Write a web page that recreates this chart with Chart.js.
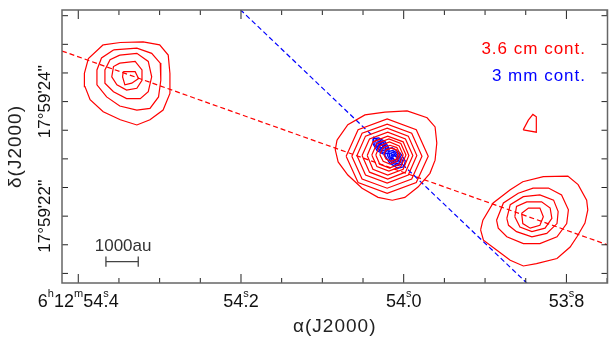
<!DOCTYPE html>
<html>
<head>
<meta charset="utf-8">
<script src="https://cdn.jsdelivr.net/npm/chart.js@4.4.1/dist/chart.umd.min.js"></script>
<style>
  html, body { margin: 0; padding: 0; background: #fff; }
</style>
</head>
<body>
<canvas id="map" width="609" height="340"></canvas>
<script>
// Axes: RA in seconds of time (6h12m..s), Dec in arcsec (17°59'..")
const raRange = [53.7495, 54.4200];
const decRange = [20.8326, 25.5995];
const decDeg = 17.9916;

const raMajorTicks = [54.4, 54.2, 54.0, 53.8];
const raMinorTicks = [54.35, 54.3, 54.25, 54.15, 54.1, 54.05, 53.95, 53.9, 53.85, 53.75];
const raTickLabels = ['6^h12^m54^s.4', '54^s.2', '54^s.0', '53^s.8'];
const decMajorTicks = [22, 24];
const decMinorTicks = [21, 21.5, 22.5, 23, 23.5, 24.5, 25, 25.5];
const decTickLabels = ["17°59'22''", "17°59'24''"];

// 3.6 cm continuum: centres [RA s, Dec "], contours as [east ", north "] offsets
const cmCentreA = [54.3364, 24.4121];
const cmCentreB = [54.0168, 23.0676];
const cmCentreC = [53.8410, 22.0199];
const cmCentreD = [53.8447, 23.6263];

const cmContoursA = [
  [[0.47,0.58],[0.17,0.62],[-0.23,0.63],[-0.52,0.58],[-0.67,0.40],[-0.70,0.08],[-0.70,-0.27],[-0.58,-0.56],[-0.35,-0.73],[-0.12,-0.82],[0.17,-0.73],[0.47,-0.59],[0.70,-0.38],[0.79,-0.15],[0.80,0.08],[0.73,0.34]],
  [[0.29,0.49],[-0.12,0.52],[-0.38,0.43],[-0.53,0.26],[-0.54,-0.04],[-0.50,-0.33],[-0.35,-0.53],[-0.12,-0.56],[0.18,-0.49],[0.41,-0.33],[0.58,-0.12],[0.58,0.14],[0.50,0.35]],
  [[0.18,0.40],[-0.12,0.43],[-0.32,0.29],[-0.38,0.02],[-0.32,-0.24],[-0.18,-0.36],[0.06,-0.36],[0.29,-0.24],[0.44,-0.09],[0.44,0.14],[0.35,0.32]],
  [[0.18,0.26],[-0.09,0.29],[-0.21,0.14],[-0.21,-0.04],[-0.12,-0.18],[0.06,-0.21],[0.23,-0.12],[0.32,0.02],[0.29,0.20]],
  [[0.12,0.11],[-0.09,0.11],[-0.15,-0.01],[-0.03,-0.09],[0.09,-0.12],[0.13,0.02]]
];

const cmContoursB = [
  [[0.93,0.26],[0.74,0.53],[0.44,0.70],[0.09,0.75],[-0.30,0.77],[-0.65,0.65],[-0.79,0.49],[-0.82,0.21],[-0.79,-0.09],[-0.70,-0.32],[-0.49,-0.56],[-0.26,-0.74],[-0.04,-0.79],[0.21,-0.74],[0.49,-0.58],[0.74,-0.35],[0.91,-0.12],[0.96,0.09]],
  [[0.77,-0.02],[0.56,0.44],[0.05,0.63],[-0.46,0.44],[-0.67,-0.02],[-0.46,-0.48],[0.05,-0.67],[0.56,-0.48]],
  [[0.67,-0.02],[0.49,0.38],[0.05,0.54],[-0.38,0.38],[-0.56,-0.02],[-0.38,-0.42],[0.05,-0.58],[0.49,-0.42]],
  [[0.58,-0.01],[0.43,0.33],[0.05,0.47],[-0.32,0.33],[-0.47,-0.01],[-0.32,-0.35],[0.05,-0.49],[0.43,-0.35]],
  [[0.49,-0.01],[0.36,0.28],[0.04,0.40],[-0.27,0.28],[-0.40,-0.01],[-0.27,-0.30],[0.04,-0.42],[0.36,-0.30]],
  [[0.40,-0.01],[0.30,0.23],[0.04,0.33],[-0.23,0.23],[-0.33,-0.01],[-0.23,-0.25],[0.04,-0.35],[0.30,-0.25]],
  [[0.32,0.00],[0.23,0.20],[0.02,0.28],[-0.19,0.20],[-0.28,0.00],[-0.19,-0.20],[0.02,-0.28],[0.23,-0.20]],
  [[0.25,0.00],[0.18,0.16],[0.01,0.23],[-0.16,0.16],[-0.23,0.00],[-0.16,-0.16],[0.01,-0.23],[0.18,-0.16]],
  [[0.18,0.01],[0.12,0.13],[0.00,0.17],[-0.12,0.13],[-0.18,0.01],[-0.12,-0.11],[0.00,-0.16],[0.12,-0.11]],
  [[0.11,0.01],[0.07,0.09],[-0.02,0.12],[-0.11,0.09],[-0.14,0.01],[-0.11,-0.07],[-0.02,-0.11],[0.07,-0.07]]
];

const cmContoursC = [
  [[0.92,-0.26],[0.88,-0.09],[0.70,0.21],[0.40,0.44],[0.18,0.58],[-0.18,0.67],[-0.61,0.68],[-0.79,0.53],[-0.94,0.26],[-0.96,0.09],[-0.91,-0.14],[-0.77,-0.38],[-0.65,-0.56],[-0.42,-0.76],[-0.06,-0.85],[0.17,-0.89],[0.40,-0.79],[0.64,-0.61],[0.87,-0.44]],
  [[0.64,-0.09],[0.52,0.21],[0.26,0.38],[0.00,0.47],[-0.27,0.47],[-0.50,0.35],[-0.62,0.09],[-0.59,-0.15],[-0.42,-0.38],[-0.12,-0.50],[0.17,-0.50],[0.46,-0.38],[0.61,-0.23]],
  [[0.46,-0.06],[0.40,0.18],[0.17,0.32],[-0.12,0.35],[-0.36,0.26],[-0.44,0.06],[-0.42,-0.15],[-0.24,-0.32],[0.02,-0.38],[0.29,-0.29],[0.43,-0.18]],
  [[0.32,-0.03],[0.29,0.15],[0.11,0.23],[-0.15,0.23],[-0.30,0.12],[-0.33,-0.06],[-0.21,-0.23],[0.02,-0.29],[0.23,-0.21]],
  [[0.20,0.03],[0.08,0.12],[-0.12,0.12],[-0.18,-0.03],[-0.12,-0.18],[0.05,-0.23],[0.18,-0.15]]
];

const cmContoursD = [
  [[0.12,-0.12],[0.03,0.05],[-0.05,0.15],[-0.11,0.11],[-0.11,-0.16]]
];

// 3 mm continuum: two compact cores
const mmCentre1 = [54.0279, 23.2247];
const mmCentre2 = [54.0107, 23.0152];

const mmContours1 = [
  [[-0.13,-0.13],[-0.14,-0.04],[-0.07,0.08],[0.04,0.14],[0.13,0.13],[0.14,0.04],[0.07,-0.08],[-0.04,-0.14]],
  [[-0.10,-0.10],[-0.11,-0.03],[-0.05,0.06],[0.03,0.11],[0.10,0.10],[0.11,0.03],[0.05,-0.06],[-0.03,-0.11]],
  [[-0.07,-0.07],[-0.08,-0.02],[-0.04,0.05],[0.02,0.08],[0.07,0.07],[0.08,0.02],[0.04,-0.05],[-0.02,-0.08]],
  [[-0.05,-0.05],[-0.05,-0.01],[-0.02,0.03],[0.01,0.05],[0.05,0.05],[0.05,0.01],[0.02,-0.03],[-0.01,-0.05]],
  [[-0.03,-0.03],[-0.03,0.00],[-0.01,0.02],[0.01,0.03],[0.03,0.03],[0.03,0.00],[0.01,-0.02],[-0.01,-0.03]]
];
const mmContours2 = [
  [[-0.16,-0.15],[-0.18,-0.05],[-0.09,0.09],[0.05,0.18],[0.16,0.15],[0.18,0.05],[0.09,-0.09],[-0.05,-0.18]],
  [[-0.12,-0.11],[-0.13,-0.04],[-0.07,0.07],[0.04,0.13],[0.12,0.11],[0.13,0.04],[0.07,-0.07],[-0.04,-0.13]],
  [[-0.09,-0.08],[-0.10,-0.03],[-0.05,0.05],[0.03,0.10],[0.09,0.08],[0.10,0.03],[0.05,-0.05],[-0.03,-0.10]],
  [[-0.06,-0.05],[-0.07,-0.02],[-0.03,0.03],[0.02,0.07],[0.06,0.05],[0.07,0.02],[0.03,-0.03],[-0.02,-0.07]],
  [[-0.04,-0.03],[-0.04,-0.01],[-0.02,0.02],[0.01,0.04],[0.04,0.03],[0.04,0.01],[0.02,-0.02],[-0.01,-0.04]]
];

// dashed axes [RA s, Dec "]
const cmAxis = [[54.4200, 24.8835], [53.7489, 21.4961]];
const mmAxis = [[54.2080, 25.7032], [53.8397, 20.7093]];

// scale bar: 1000 au at the source distance
const scaleBarAu = 1000;
const distancePc = 1765;
const scaleBarStart = [54.3660, 21.2045];

const secPerArcsec = 1 / (15 * Math.cos(decDeg * Math.PI / 180));

function toSky(centre, pts) {
  const out = pts.map(([e, n]) => ({ x: centre[0] + e * secPerArcsec, y: centre[1] + n }));
  out.push(out[0]);
  return out;
}

function contourSet(centre, list, colour, width) {
  return list.map(c => ({
    data: toSky(centre, c),
    borderColor: colour,
    borderWidth: width,
    showLine: true,
    pointRadius: 0,
    fill: false
  }));
}

function dashedLine(ends, colour) {
  return {
    data: ends.map(([x, y]) => ({ x, y })),
    borderColor: colour,
    borderWidth: 1.2,
    borderDash: [5, 3],
    showLine: true,
    pointRadius: 0
  };
}

const barLen = (scaleBarAu / distancePc) * secPerArcsec;
const barEnd = [scaleBarStart[0] - barLen, scaleBarStart[1]];
const capH = 0.09;
const barColour = '#444';
function barPiece(pts) {
  return { data: pts.map(([x, y]) => ({ x, y })), borderColor: barColour, borderWidth: 1.3, showLine: true, pointRadius: 0 };
}

const red = '#ff0000';
const blue = '#0000ff';

const datasets = [
  ...contourSet(cmCentreA, cmContoursA, red, 1.2),
  ...contourSet(cmCentreB, cmContoursB, red, 1.2),
  ...contourSet(cmCentreC, cmContoursC, red, 1.2),
  ...contourSet(cmCentreD, cmContoursD, red, 1.2),
  dashedLine(cmAxis, red),
  dashedLine(mmAxis, blue),
  ...contourSet(mmCentre1, mmContours1, blue, 1.3),
  ...contourSet(mmCentre2, mmContours2, blue, 1.3),
  barPiece([scaleBarStart, barEnd]),
  barPiece([[scaleBarStart[0], scaleBarStart[1] - capH], [scaleBarStart[0], scaleBarStart[1] + capH]]),
  barPiece([[barEnd[0], barEnd[1] - capH], [barEnd[0], barEnd[1] + capH]])
];

// text with ^x superscripts; a '.' right after a superscript sits beneath it
function drawSexa(ctx, str, cx, cy, size) {
  const parts = [];
  for (let i = 0; i < str.length; i++) {
    if (str[i] === '^') { parts.push({ t: str[i + 1], sup: true }); i++; }
    else if (str[i] === '.' && parts.length && parts[parts.length - 1].sup) { parts[parts.length - 1].dot = true; }
    else parts.push({ t: str[i], sup: false });
  }
  const main = size + 'px "Liberation Sans", Arial, sans-serif';
  const small = Math.round(size * 0.62) + 'px "Liberation Sans", Arial, sans-serif';
  let total = 0;
  parts.forEach(p => {
    ctx.font = p.sup ? small : main;
    p.w = ctx.measureText(p.t).width;
    if (p.dot) { ctx.font = main; p.w = Math.max(p.w, ctx.measureText('.').width); }
    total += p.w;
  });
  let x = cx - total / 2;
  ctx.textBaseline = 'middle';
  ctx.textAlign = 'left';
  parts.forEach(p => {
    if (p.sup) {
      ctx.font = small;
      ctx.fillText(p.t, x, cy - size * 0.45);
      if (p.dot) {
        ctx.font = main;
        const dw = ctx.measureText('.').width;
        ctx.fillText('.', x + (p.w - dw) / 2, cy);
      }
    } else {
      ctx.font = main;
      ctx.fillText(p.t, x, cy);
    }
    x += p.w;
  });
}

const framePlugin = {
  id: 'frame',
  afterDraw(chart) {
    const { ctx, chartArea: a, scales: { x, y } } = chart;
    ctx.save();

    // ticks on all four sides
    ctx.strokeStyle = '#222';
    ctx.lineWidth = 1;
    const tick = (px, len, horiz) => {
      ctx.beginPath();
      if (horiz) {
        ctx.moveTo(px, a.bottom); ctx.lineTo(px, a.bottom - len);
        ctx.moveTo(px, a.top); ctx.lineTo(px, a.top + len);
      } else {
        ctx.moveTo(a.left, px); ctx.lineTo(a.left + len, px);
        ctx.moveTo(a.right, px); ctx.lineTo(a.right - len, px);
      }
      ctx.stroke();
    };
    raMajorTicks.forEach(v => tick(x.getPixelForValue(v), 9, true));
    raMinorTicks.forEach(v => tick(x.getPixelForValue(v), 5, true));
    decMajorTicks.forEach(v => tick(y.getPixelForValue(v), 6, false));
    decMinorTicks.forEach(v => tick(y.getPixelForValue(v), 6, false));

    // frame
    ctx.strokeStyle = '#666';
    ctx.lineWidth = 1.5;
    ctx.strokeRect(a.left, a.top, a.right - a.left, a.bottom - a.top);

    // tick labels
    ctx.fillStyle = '#111';
    raMajorTicks.forEach((v, i) => drawSexa(ctx, raTickLabels[i], x.getPixelForValue(v), a.bottom + 19, 18));
    ctx.font = '17px "Liberation Sans", Arial, sans-serif';
    ctx.textAlign = 'center';
    ctx.textBaseline = 'middle';
    decMajorTicks.forEach((v, i) => {
      ctx.save();
      ctx.translate(a.left - 17, y.getPixelForValue(v));
      ctx.rotate(-Math.PI / 2);
      ctx.fillText(decTickLabels[i], 0, 0);
      ctx.restore();
    });

    // axis titles
    ctx.fillStyle = '#222';
    ctx.font = '19px "Liberation Sans", Arial, sans-serif';
    ctx.letterSpacing = '1px';
    ctx.fillText('α(J2000)', (a.left + a.right) / 2, 327);
    ctx.save();
    ctx.translate(16, (a.top + a.bottom) / 2);
    ctx.rotate(-Math.PI / 2);
    ctx.fillText('δ(J2000)', 0, 0);
    ctx.restore();

    // legend
    ctx.font = '17px "Liberation Sans", Arial, sans-serif';
    ctx.textAlign = 'right';
    ctx.fillStyle = red;
    ctx.fillText('3.6 cm cont.', 586, 49);
    ctx.fillStyle = blue;
    ctx.fillText('3 mm cont.', 586, 76);

    // scale bar label
    ctx.textAlign = 'center';
    ctx.fillStyle = '#333';
    ctx.letterSpacing = '0px';
    ctx.font = '17px "Liberation Sans", Arial, sans-serif';
    const bx = (x.getPixelForValue(scaleBarStart[0]) + x.getPixelForValue(barEnd[0])) / 2;
    ctx.fillText(scaleBarAu + 'au', bx + 1, y.getPixelForValue(scaleBarStart[1]) - 15);

    ctx.restore();
  }
};

new Chart(document.getElementById('map'), {
  type: 'scatter',
  data: { datasets },
  options: {
    responsive: false,
    animation: false,
    devicePixelRatio: 1,
    layout: { padding: { left: 62, top: 10, right: 1.5, bottom: 57 } },
    plugins: { legend: { display: false }, tooltip: { enabled: false } },
    scales: {
      x: { type: 'linear', reverse: true, min: raRange[0], max: raRange[1], display: false },
      y: { type: 'linear', min: decRange[0], max: decRange[1], display: false }
    }
  },
  plugins: [framePlugin]
});
</script>
</body>
</html>
